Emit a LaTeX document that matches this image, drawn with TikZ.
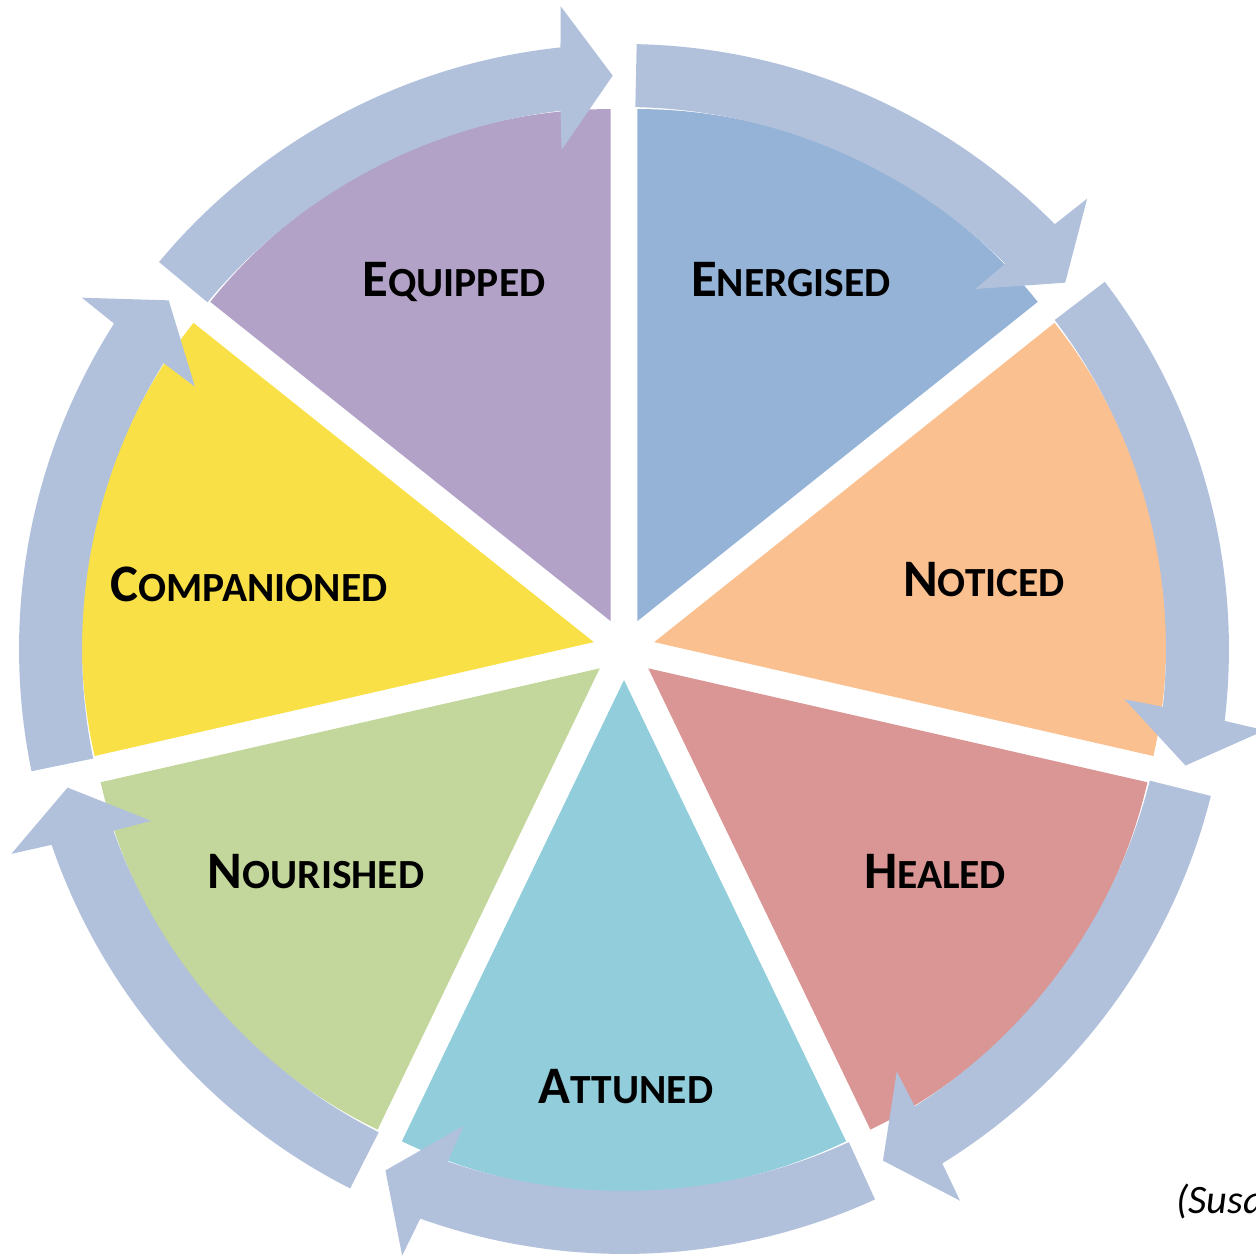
\documentclass[tikz,border=0pt]{standalone}
\usepackage{fontspec}
\setmainfont{Carlito}
\usetikzlibrary{positioning}
\definecolor{ringblue}{HTML}{B1C1DC}
\definecolor{segblue}{HTML}{95B3D7}
\definecolor{segorange}{HTML}{FAC090}
\definecolor{segred}{HTML}{D99694}
\definecolor{segaqua}{HTML}{92CDDC}
\definecolor{seggreen}{HTML}{C3D69B}
\definecolor{segyellow}{HTML}{F8E046}
\definecolor{segpurple}{HTML}{B2A2C7}
\tikzset{
    ringarrow/.style={fill=ringblue, draw=none},
    lbl/.style={font=\bfseries\fontsize{30}{30}\selectfont, inner sep=0pt, anchor=base},
    source/.style={font=\itshape\fontsize{23}{23}\selectfont, inner sep=0pt, anchor=base west}
}
\newcommand{\smcap}[2]{#1{\fontsize{23.6}{23.6}\selectfont #2}}

\begin{document}
\begin{tikzpicture}[x=0.02cm, y=0.02cm]
    \def \R {512}
    \def \off {31}
    \def \ri {542}
    \def \ro {605}
    \def \ang {51.4286}
    \useasboundingbox (0,0) rectangle (1256,1255);
    \coordinate (c) at (624,606);
    \begin{scope}[shift={(c)}]
    % pie segments, pulled apart
    \foreach \k/\col in {0/segblue,1/segorange,2/segred,3/segaqua,4/seggreen,5/segyellow,6/segpurple}{
        \pgfmathsetmacro{\a}{90-\k*\ang}
        \pgfmathsetmacro{\b}{\a-\ang}
        \pgfmathsetmacro{\m}{\a-\ang/2}
        \fill[\col, shift={(\m:\off)}] (0,0) -- (\a:\R) arc[start angle=\a, end angle=\b, radius=\R] -- cycle;
    }
    % ring of arrows
    \foreach \k in {0,...,6}{
        \begin{scope}[rotate=-\k*\ang]
        \fill[ringarrow] (88.8:\ro) arc[start angle=88.8, end angle=44.6, radius=\ro]
            -- (44.2:646) -- (39.7:573.5) -- (45.7:503)
            -- (45.3:\ri) arc[start angle=45.3, end angle=88.8, radius=\ri] -- cycle;
        \end{scope}
    }
    \end{scope}
    \node[lbl] (energised) at (791,958) {\smcap{E}{NERGISED}};
    \node[lbl] (noticed) at (984,659) {\smcap{N}{OTICED}};
    \node[lbl] (healed) at (935,367) {\smcap{H}{EALED}};
    \node[lbl] (attuned) at (626,152) {\smcap{A}{TTUNED}};
    \node[lbl] (nourished) at (316,367) {\smcap{N}{OURISHED}};
    \node[lbl] (companioned) at (249,654) {\smcap{C}{OMPANIONED}};
    \node[lbl] (equipped) at (454,958) {\smcap{E}{QUIPPED}};
    \node[source] (ref) at (1176,42) {(Susa};
\end{tikzpicture}
\end{document}
